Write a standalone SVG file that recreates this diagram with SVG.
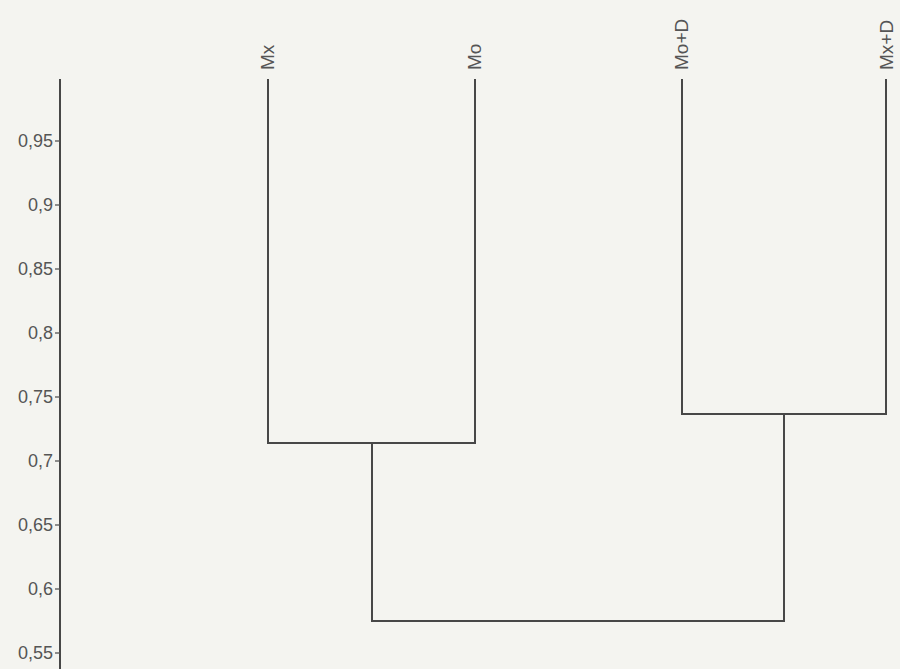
<svg xmlns="http://www.w3.org/2000/svg" width="900" height="669" viewBox="0 0 900 669">
  <style>
    .ln { fill: none; stroke: #474747; stroke-width: 2; stroke-linecap: square; }
    .tick { fill: none; stroke: #555; stroke-width: 1.3; }
    .lbl { font-family: "Liberation Sans", Arial, sans-serif; font-size: 18px; fill: #555; }
    .leaf { font-size: 19px; }
  </style>
  <rect width="900" height="669" fill="#f4f4f0"/>

  <!-- y axis with similarity scale -->
  <g id="axis">
    <line class="ln" x1="60" y1="80" x2="60" y2="669"/>
    <g class="tick">
      <line x1="55" y1="141" x2="60" y2="141"/>
      <line x1="55" y1="205" x2="60" y2="205"/>
      <line x1="55" y1="269" x2="60" y2="269"/>
      <line x1="55" y1="333" x2="60" y2="333"/>
      <line x1="55" y1="397" x2="60" y2="397"/>
      <line x1="55" y1="461" x2="60" y2="461"/>
      <line x1="55" y1="525" x2="60" y2="525"/>
      <line x1="55" y1="589" x2="60" y2="589"/>
      <line x1="55" y1="653" x2="60" y2="653"/>
    </g>
    <g class="lbl" text-anchor="end">
      <text x="53" y="147">0,95</text>
      <text x="53" y="211">0,9</text>
      <text x="53" y="275">0,85</text>
      <text x="53" y="339">0,8</text>
      <text x="53" y="403">0,75</text>
      <text x="53" y="467">0,7</text>
      <text x="53" y="531">0,65</text>
      <text x="53" y="595">0,6</text>
      <text x="53" y="659">0,55</text>
    </g>
  </g>

  <!-- leaves -->
  <g id="leaf-mx">
    <text class="lbl leaf" transform="translate(274,70) rotate(-90)">Mx</text>
  </g>
  <g id="leaf-mo">
    <text class="lbl leaf" transform="translate(481,70) rotate(-90)">Mo</text>
  </g>
  <g id="leaf-mod">
    <text class="lbl leaf" transform="translate(688,70) rotate(-90)">Mo+D</text>
  </g>
  <g id="leaf-mxd">
    <text class="lbl leaf" transform="translate(893,70) rotate(-90)">Mx+D</text>
  </g>

  <!-- dendrogram branches -->
  <g id="connectors">
    <path class="ln" d="M268,80 V443 H475 V80"/>
    <path class="ln" d="M682,80 V414 H886 V80"/>
    <path class="ln" d="M372,443 V621 H784 V414"/>
  </g>
</svg>
